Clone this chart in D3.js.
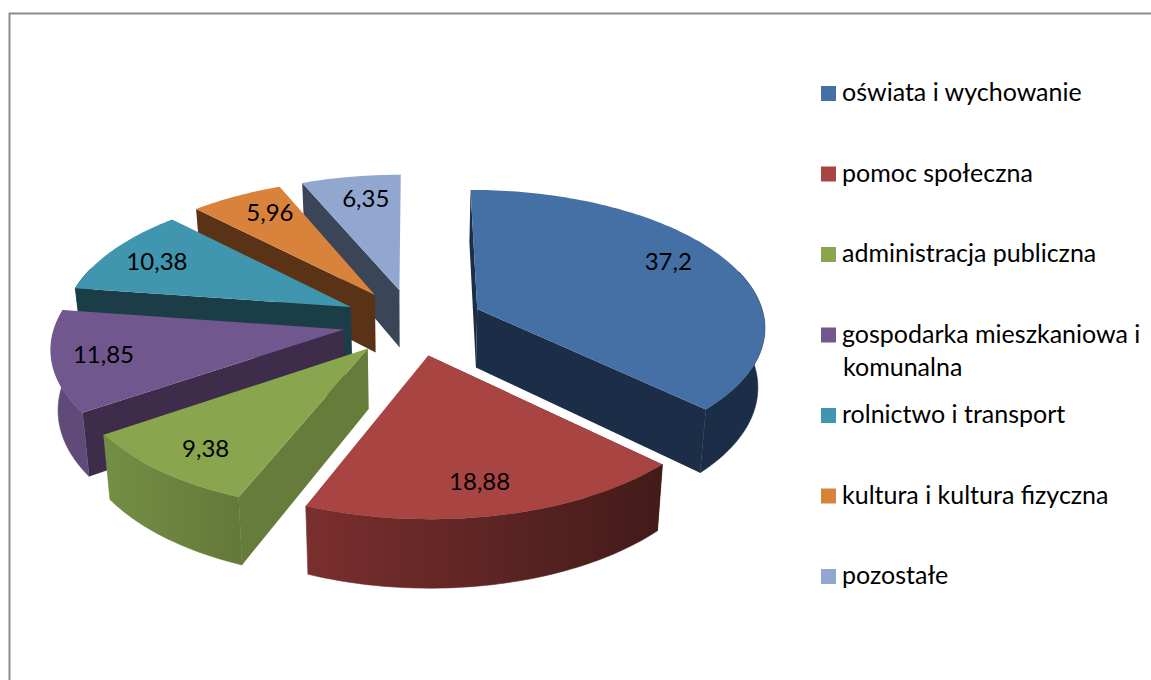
<!DOCTYPE html>
<html>
<head>
<meta charset="utf-8">
<script src="https://cdn.jsdelivr.net/npm/d3@7"></script>
<style>
  html, body { margin: 0; padding: 0; background: #fff; }
  text { font-family: Lato, "Open Sans", sans-serif; fill: #000; }
</style>
</head>
<body>
<div id="chart"></div>
<script>
const categories = ['oświata i wychowanie', 'pomoc społeczna', 'administracja publiczna', 'gospodarka mieszkaniowa i', 'rolnictwo i transport', 'kultura i kultura fizyczna', 'pozostałe'];
const values = [37.2, 18.88, 9.38, 11.85, 10.38, 5.96, 6.35];
const valueLabels = ['37,2', '18,88', '9,38', '11,85', '10,38', '5,96', '6,35'];
const topColors = ['#4470a5', '#a84543', '#89a54e', '#70578d', '#4096ae', '#d9823c', '#91a7cf'];
const wallColors = ['#1b2d47', '#4a1c1a', '#677b3a', '#3d2c4a', '#1b3d48', '#5a3316', '#3b4558'];
const rimLeft = ['#1b2d47', '#7a2f2e', '#748f45', '#5f4a78', '#1b3d48', '#5a3316', '#3b4558'];
const rimRight = ['#1b2d47', '#421b19', '#647839', '#5f4a78', '#1b3d48', '#5a3316', '#3b4558'];
const drawOrder = [6, 5, 4, 3, 0, 2, 1];
// best-fit label placement is not derivable from the pie, small per-label correction
const labelNudgeX = [-9, -5, 1, -8, -2, 8, 6];
const labelNudgeY = [-7, 2, 4, 0, 1, -2, 1];

const width = 1151, height = 680;
const cx = 413, cy = 322;
const radius = 288, radiusY = 136;
const explode = 0.245, persp = 0.117;
const depth = 59, bottomShrink = 0.98;
const labelFrac = 0.8;

const svg = d3.select('#chart').append('svg')
  .attr('width', width)
  .attr('height', height);

svg.append('path')
  .attr('d', `M${width},13.5H9.5V${height}`)
  .attr('fill', 'none')
  .attr('stroke', '#8c8c8c')
  .attr('stroke-width', 2);

const pie = d3.pie().sort(null).startAngle(0).endAngle(2 * Math.PI)(values);
const defs = svg.append('defs');
const line = d3.line().curve(d3.curveLinearClosed);

// pie plane -> screen, frac is the distance from the slice apex, lower = bottom face
function project(slice, angle, frac, lower) {
  const mid = (slice.startAngle + slice.endAngle) / 2;
  const X = explode * Math.sin(mid) + frac * Math.sin(angle);
  const V = -explode * Math.cos(mid) - frac * Math.cos(angle);
  const w = 1 / (1 - persp * V);
  const sx = cx + radius * X * w * (lower ? bottomShrink : 1);
  const sy = cy + radiusY * V * w + (lower ? depth * w : 0);
  return [sx, sy];
}

function arcAngles(slice) {
  const n = Math.ceil((slice.endAngle - slice.startAngle) / 0.02);
  return d3.range(n + 1).map(i => slice.startAngle + (slice.endAngle - slice.startAngle) * i / n);
}

drawOrder.forEach(i => {
  const slice = pie[i];
  const angles = arcAngles(slice);
  const g = svg.append('g');

  const grad = defs.append('linearGradient').attr('id', `rim${i}`);
  grad.append('stop').attr('offset', 0).attr('stop-color', rimLeft[i]);
  grad.append('stop').attr('offset', 1).attr('stop-color', rimRight[i]);

  // radial walls, the end wall only shows on the right half
  const walls = slice.endAngle < Math.PI ? [slice.startAngle, slice.endAngle] : [slice.startAngle];
  walls.forEach(a => {
    g.append('path')
      .attr('d', line([
        project(slice, a, 0, false),
        project(slice, a, 1, false),
        project(slice, a, 1, true),
        project(slice, a, 0, true)
      ]))
      .attr('fill', wallColors[i]);
  });

  // outer rim, front part only, thin stroke hides the seam with the wall
  const front = angles.filter(a => Math.cos(a) < 0.3);
  if (front.length > 1) {
    const rim = front.map(a => project(slice, a, 1, false))
      .concat(front.slice().reverse().map(a => project(slice, a, 1, true)));
    g.append('path')
      .attr('d', line(rim))
      .attr('fill', `url(#rim${i})`)
      .attr('stroke', `url(#rim${i})`)
      .attr('stroke-width', 0.6);
  }

  // top face
  const top = [project(slice, 0, 0, false)].concat(angles.map(a => project(slice, a, 1, false)));
  g.append('path')
    .attr('d', line(top))
    .attr('fill', topColors[i]);
});

pie.forEach((slice, i) => {
  const p = project(slice, (slice.startAngle + slice.endAngle) / 2, labelFrac, false);
  svg.append('text')
    .attr('x', p[0] + labelNudgeX[i])
    .attr('y', p[1] + labelNudgeY[i])
    .attr('dy', '0.35em')
    .attr('text-anchor', 'middle')
    .attr('font-size', 24)
    .text(valueLabels[i]);
});

// legend
const legendY = d3.scaleLinear().domain([0, 6]).range([101, 584]);
const legend = svg.append('g');
categories.forEach((name, i) => {
  legend.append('rect')
    .attr('x', 821)
    .attr('y', legendY(i) - 15)
    .attr('width', 15)
    .attr('height', 15)
    .attr('fill', topColors[i]);
  legend.append('text')
    .attr('x', 842)
    .attr('y', legendY(i))
    .attr('font-size', 25)
    .text(name);
});
legend.append('text')
  .attr('x', 843)
  .attr('y', legendY(3) + 33)
  .attr('font-size', 25)
  .text('komunalna');
</script>
</body>
</html>
